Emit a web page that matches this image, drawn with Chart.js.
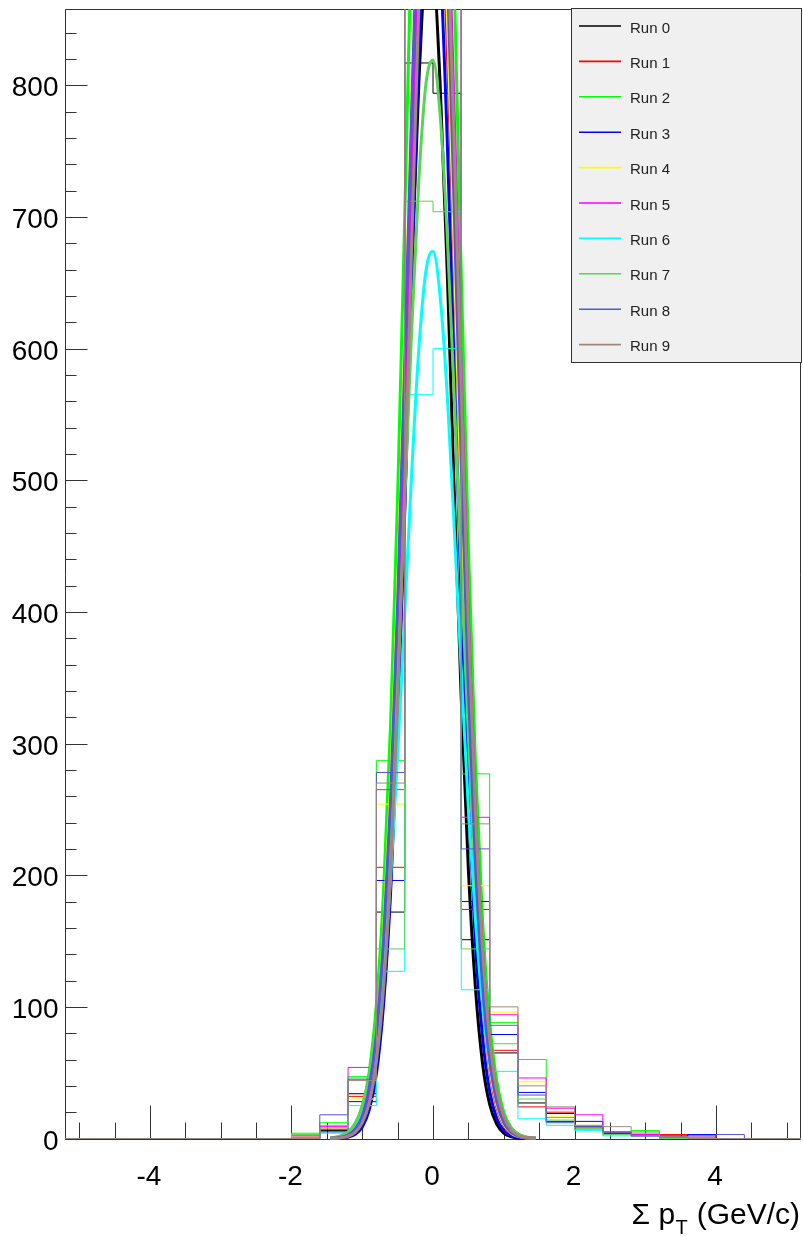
<!DOCTYPE html>
<html><head><meta charset="utf-8">
<script src="https://cdn.jsdelivr.net/npm/chart.js@4.4.1/dist/chart.umd.min.js"></script>
<style>html,body{margin:0;padding:0;background:#fff;}canvas{display:block;}</style>
</head><body>
<div style="width:803px;height:1236px"><canvas id="c" width="803" height="1236"></canvas></div>
<script>
// ---------- data ----------
const runLabels = ['Run 0','Run 1','Run 2','Run 3','Run 4','Run 5','Run 6','Run 7','Run 8','Run 9'];
const runColors = ['#000000','#ff0000','#00ff00','#0000ff','#ffff00','#ff00ff','#00ffff','#59d454','#5954d9','#a08878'];

// histogram bins: low edges (width 0.4), upper limit
const binLowEdges = [-5.2,-4.8,-4.4,-4.0,-3.6,-3.2,-2.8,-2.4,-2.0,-1.6,-1.2,-0.8,-0.4,0.0,0.4,0.8,1.2,1.6,2.0,2.4,2.8,3.2,3.6,4.0,4.4,4.8];
const binUpperEdge = 5.2;

const run0Counts = [0,0,0,0,0,0,0,0, 0,6,34,172,817,794,151,65,27,19,9,4,3,1,0,0,0,0];
const run1Counts = [0,0,0,0,0,0,0,0, 2,7,32,206,930,900,174,67,24,20,8,3,2,3,2,0,0,0];
const run2Counts = [0,0,0,0,0,0,0,0, 4,12,47,287,1150,1100,277,88,60,16,8,4,6,1,0,0,0,0];
const run3Counts = [0,0,0,0,0,0,0,0, 0,5,28,196,920,880,180,79,35,13,13,4,2,2,3,0,0,0];
const run4Counts = [0,0,0,0,0,0,0,0, 1,8,30,254,990,950,192,96,43,17,10,3,2,1,0,0,0,0];
const run5Counts = [0,0,0,0,0,0,0,0, 1,9,54,265,1000,980,244,94,46,23,18,5,3,1,0,0,0,0];
const run6Counts = [0,0,0,0,0,0,0,0, 0,4,25,127,565,600,113,51,15,10,6,2,2,0,0,0,0,0];
const run7Counts = [0,0,0,0,0,0,0,0, 3,10,46,144,712,704,144,72,30,14,7,3,4,0,0,0,0,0];
const run8Counts = [0,0,0,0,0,0,0,0, 0,18,45,278,1000,960,220,86,33,12,9,5,2,1,1,3,0,0];
const run9Counts = [0,0,0,0,0,0,0,0, 0,8,44,270,1000,980,239,100,40,24,10,9,5,1,0,0,0,0];

const fitX = [-1.45,-1.4,-1.3,-1.2,-1.1,-1.0,-0.9,-0.8,-0.7,-0.6,-0.5,-0.4,-0.3,-0.2,-0.1,0.0,0.1,0.2,0.3,0.4,0.5,0.6,0.7,0.8,0.9,1.0,1.1,1.2,1.3,1.4,1.45];
const run0Fit = [0.1,0.2,0.4,1.4,4.1,10.9,26,57,114,204,333,492,660,802,884,884,802,660,492,333,204,114,57,26,11,4.1,1.4,0.4,0.1,0,0];
const run1Fit = [0.1,0.1,0.4,1.3,3.9,10,24,53,105,191,317,480,662,832,955,1000,955,832,662,480,317,191,105,53,24,10,3.9,1.3,0.4,0.1,0.1];
const run2Fit = [0.4,0.6,1.5,4.0,10.2,24,51,102,186,314,488,699,923,1122,1257,1299,1237,1086,878,655,450,285,166,89,44,20,8.5,3.3,1.2,0.4,0.2];
const run3Fit = [0,0.1,0.3,1.1,3.2,8.8,22,49,101,186,312,475,656,821,932,960,897,760,584,407,257,147,77,36,15.4,6.0,2.1,0.7,0.2,0.1,0];
const run4Fit = [0.2,0.3,1.0,2.9,7.6,18,41,83,155,265,416,598,788,953,1057,1076,1004,859,674,485,320,194,108,55,26,11,4.3,1.6,0.5,0.2,0.1];
const run5Fit = [0.1,0.2,0.7,2.0,5.4,13.6,31,66,127,224,364,541,739,926,1063,1120,1081,958,778,580,396,249,143,75,36,16,6.6,2.5,0.8,0.3,0.1];
const run6Fit = [0.3,0.6,1.7,4.2,9.5,20,40,73,125,198,291,398,507,600,659,674,640,566,464,354,251,166,102,58,31,15,6.9,2.9,1.2,0.4,0.2];
const run7Fit = [0.4,0.7,2.1,5.1,11.6,25,48,89,151,240,353,484,616,728,801,819,778,687,564,430,305,201,123,70,37,18,8.4,3.6,1.4,0.5,0.3];
const run8Fit = [0.1,0.3,0.9,2.7,7.1,17,39,79,149,257,406,589,784,956,1070,1098,1034,892,706,513,342,209,117,60,28,12,4.8,1.8,0.6,0.2,0.1];
const run9Fit = [0.1,0.2,0.6,1.7,4.6,11.8,27,58,113,201,330,494,680,860,996,1058,1031,921,755,568,391,248,144,76,37,17,6.8,2.6,0.9,0.3,0.1];

// axes
const xMin = -5.2, xMax = 5.2, yMin = 0, yMax = 858;
const xTickValues = [-4,-2,0,2,4];
const xTickLabels = ['-4','-2','0','2','4'];
const xMinorTicks = [-5,-4.5,-3.5,-3,-2.5,-1.5,-1,-0.5,0.5,1,1.5,2.5,3,3.5,4.5,5];
const yTickValues = [0,100,200,300,400,500,600,700,800];
const yTickLabels = ['0','100','200','300','400','500','600','700','800'];
const yMinorStep = 20;
const xTitleMain = 'Σ p', xTitleSub = 'T', xTitleRest = ' (GeV/c)';

// ---------- build ----------
const allCounts = [run0Counts,run1Counts,run2Counts,run3Counts,run4Counts,run5Counts,run6Counts,run7Counts,run8Counts,run9Counts];
const allFits = [run0Fit,run1Fit,run2Fit,run3Fit,run4Fit,run5Fit,run6Fit,run7Fit,run8Fit,run9Fit];
const clipBox = {left:0, top:0, right:0, bottom:2};
const datasets = [];
allCounts.forEach((counts, r) => {
  const pts = binLowEdges.map((x, i) => ({x: x, y: counts[i]}));
  pts.push({x: binUpperEdge, y: counts[counts.length - 1]});
  datasets.push({label: runLabels[r], data: pts, borderColor: runColors[r], borderWidth: 1,
    stepped: 'before', pointRadius: 0, fill: false, order: 100 - 2*r, clip: clipBox});
  datasets.push({label: runLabels[r] + ' fit', data: fitX.map((x, i) => ({x: x, y: allFits[r][i]})),
    borderColor: runColors[r], borderWidth: 3, cubicInterpolationMode: 'monotone', pointRadius: 0,
    fill: false, order: 99 - 2*r, clip: clipBox});
});

const FONT = "'Liberation Sans', Arial, Helvetica, sans-serif";
const AXIS_COLOR = '#333333';

const rootAxes = {
  id: 'rootAxes',
  beforeDatasetsDraw(chart) {
    const {ctx, chartArea: a, scales: {x, y}} = chart;
    ctx.save();
    ctx.strokeStyle = AXIS_COLOR;
    ctx.lineWidth = 1;
    ctx.beginPath();
    ctx.rect(Math.round(a.left) + 0.5, Math.round(a.top) + 0.5, Math.round(a.right - a.left) - 1, Math.round(a.bottom - a.top));
    ctx.stroke();
    const yb = Math.round(y.getPixelForValue(0)) + 0.5;
    ctx.beginPath();
    xTickValues.forEach(v => { const px = Math.round(x.getPixelForValue(v)) + 0.5; ctx.moveTo(px, yb); ctx.lineTo(px, yb - 34); });
    xMinorTicks.forEach(v => { const px = Math.round(x.getPixelForValue(v)) + 0.5; ctx.moveTo(px, yb); ctx.lineTo(px, yb - 17); });
    const xl = Math.round(x.getPixelForValue(xMin)) + 0.5;
    for (let v = yMin; v <= yMax; v += yMinorStep) {
      const py = Math.round(y.getPixelForValue(v)) + 0.5;
      const len = (v % 100 === 0) ? 22 : 11;
      ctx.moveTo(xl, py); ctx.lineTo(xl + len, py);
    }
    ctx.stroke();
    ctx.restore();
  },
  afterDraw(chart) {
    const {ctx, scales: {x, y}} = chart;
    ctx.save();
    ctx.fillStyle = '#000';
    ctx.font = '28px ' + FONT;
    ctx.textAlign = 'center';
    ctx.textBaseline = 'alphabetic';
    xTickValues.forEach((v, i) => ctx.fillText(xTickLabels[i], x.getPixelForValue(v) - 1, 1185));
    ctx.textAlign = 'right';
    yTickValues.forEach((v, i) => ctx.fillText(yTickLabels[i], 58.5, y.getPixelForValue(v) + 11));
    // x axis title with subscript
    ctx.textAlign = 'left';
    ctx.font = '30px ' + FONT;
    const w1 = ctx.measureText(xTitleMain).width;
    const w3 = ctx.measureText(xTitleRest).width;
    ctx.font = '20px ' + FONT;
    const w2 = ctx.measureText(xTitleSub).width;
    const sx = 800 - (w1 + w2 + 1 + w3);
    ctx.font = '30px ' + FONT;
    ctx.fillText(xTitleMain, sx, 1224);
    ctx.font = '20px ' + FONT;
    ctx.fillText(xTitleSub, sx + w1 + 0.5, 1234);
    ctx.font = '30px ' + FONT;
    ctx.fillText(xTitleRest, sx + w1 + w2 + 1, 1224);
    // legend box
    const lx = 571.5, ly = 8.5, lw = 230, lh = 354;
    ctx.fillStyle = '#f0f0f0';
    ctx.fillRect(lx, ly, lw, lh);
    ctx.strokeStyle = '#333';
    ctx.lineWidth = 1;
    ctx.strokeRect(lx, ly, lw, lh);
    ctx.font = '15px ' + FONT;
    ctx.textAlign = 'left';
    runLabels.forEach((lab, r) => {
      const cy = 26 + r * 35.4;
      ctx.strokeStyle = runColors[r];
      ctx.lineWidth = 1.6;
      ctx.beginPath();
      ctx.moveTo(579, cy);
      ctx.lineTo(621, cy);
      ctx.stroke();
      ctx.fillStyle = '#222';
      ctx.fillText(lab, 630, cy + 6.5);
    });
    ctx.restore();
  }
};

new Chart(document.getElementById('c'), {
  type: 'line',
  data: {datasets: datasets},
  options: {
    responsive: false,
    animation: false,
    devicePixelRatio: 1,
    layout: {padding: {top: 9, right: 2, left: 0, bottom: 0}},
    plugins: {legend: {display: false}, tooltip: {enabled: false}},
    scales: {
      x: {type: 'linear', min: xMin, max: xMax, grid: {display: false}, border: {display: false},
          ticks: {display: false}, afterFit: s => { s.height = 97.5; }},
      y: {type: 'linear', min: yMin, max: yMax, grid: {display: false}, border: {display: false},
          ticks: {display: false}, afterFit: s => { s.width = 65; }}
    }
  },
  plugins: [rootAxes]
});
</script>
</body></html>
